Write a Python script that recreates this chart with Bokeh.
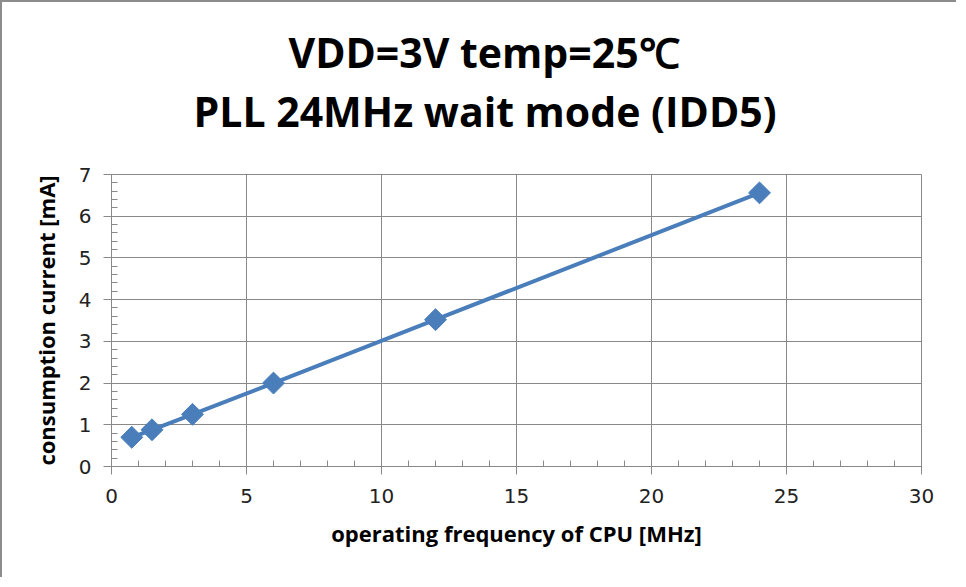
import math
from bokeh.plotting import figure
from bokeh.models import Title, SingleIntervalTicker
from bokeh.embed import file_html
from bokeh.resources import INLINE

freq_mhz = [0.75, 1.5, 3, 6, 12, 24]
current_ma = [0.70, 0.88, 1.25, 2.00, 3.52, 6.56]

title_line1 = "VDD=3V temp=25\u2103"
title_line2 = "PLL 24MHz wait mode (IDD5)"
x_label = "operating frequency of CPU [MHz]"
y_label = "consumption current [mA]"

GRID = "#898989"
BLUE = "#4A7EBB"

p = figure(width=956, height=577, output_backend="svg", toolbar_location=None,
           x_range=(0, 30), y_range=(0, 7),
           min_border_left=109, min_border_right=37, min_border_top=172, min_border_bottom=113)
p.styles = {"border-left": "2px solid #8c8c8c", "border-top": "2px solid #8c8c8c"}

# spacer between frame and title lines
p.add_layout(Title(text=" ", text_font="Open Sans", text_font_size="25px", standoff=0), "above")
p.add_layout(Title(text=title_line2, text_font="Open Sans", text_font_style="bold",
                   text_font_size="41px", text_color="#000000", align="left",
                   offset=82, standoff=0), "above")
p.add_layout(Title(text=title_line1, text_font="Open Sans", text_font_style="bold",
                   text_font_size="41px", text_color="#000000", align="left",
                   offset=177, standoff=2), "above")

p.line(freq_mhz, current_ma, line_color=BLUE, line_width=4)
p.scatter(freq_mhz, current_ma, marker="square", angle=math.pi / 4, size=15.5,
          fill_color=BLUE, line_color=BLUE)

p.xaxis.ticker = SingleIntervalTicker(interval=5, num_minor_ticks=5)
p.yaxis.ticker = SingleIntervalTicker(interval=1, num_minor_ticks=5)
for ax in (p.xaxis[0], p.yaxis[0]):
    ax.axis_line_color = GRID
    ax.major_tick_line_color = GRID
    ax.minor_tick_line_color = GRID
    ax.major_tick_out = 8
    ax.major_tick_in = 0
    ax.minor_tick_out = 0
    ax.minor_tick_in = 6
    ax.major_label_text_font = "DejaVu Sans"
    ax.major_label_text_font_style = "normal"
    ax.major_label_text_font_size = "20px"
    ax.major_label_text_color = "#222222"
    ax.axis_label_text_font = "Open Sans"
    ax.axis_label_text_font_style = "bold"
    ax.axis_label_text_font_size = "22px"
    ax.axis_label_text_color = "#000000"

p.xaxis.axis_label = x_label
p.yaxis.axis_label = y_label
p.xaxis.major_label_standoff = 14
p.yaxis.major_label_standoff = 12
p.xaxis.axis_label_standoff = 12
p.yaxis.axis_label_standoff = 15

p.xgrid.grid_line_color = GRID
p.ygrid.grid_line_color = GRID
p.xgrid.grid_line_width = 1
p.ygrid.grid_line_width = 1
p.outline_line_color = GRID
p.outline_line_width = 1
p.background_fill_color = "white"
p.border_fill_color = "white"

open("out.html", "w").write(file_html(p, INLINE))
